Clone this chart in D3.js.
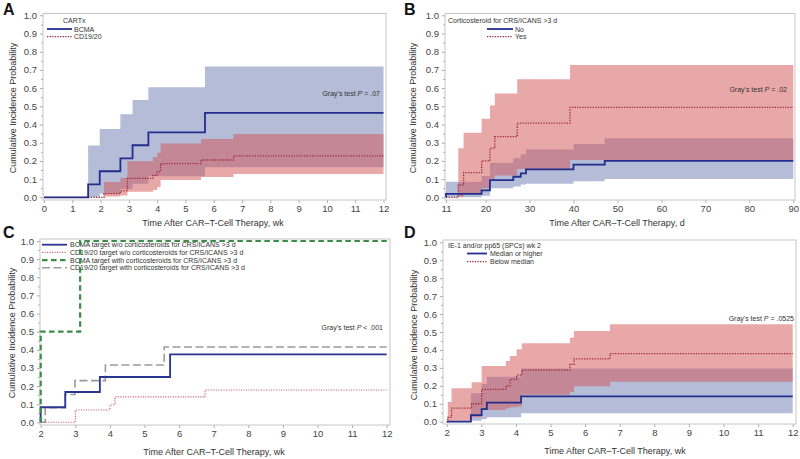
<!DOCTYPE html>
<html>
<head>
<meta charset="utf-8">
<script src="https://cdn.jsdelivr.net/npm/d3@7"></script>
<style>
  body { margin: 0; background: #fff; }
  svg text { font-family: "Liberation Sans", Arial, sans-serif; }
</style>
</head>
<body id="body">
<script>
// ---- data ----
const yTicks = [0, 0.1, 0.2, 0.3, 0.4, 0.5, 0.6, 0.7, 0.8, 0.9, 1.0];
const weekTicksA = [0, 1, 2, 3, 4, 5, 6, 7, 8, 9, 10, 11, 12];
const dayTicksB = [11, 20, 30, 40, 50, 60, 70, 80, 90];
const weekTicksCD = [2, 3, 4, 5, 6, 7, 8, 9, 10, 11, 12];

// A: CARTx
const aBcmaT   = [1.56, 1.97, 2.70, 3.13, 3.69, 5.69];
const aBcmaEst = [0.071, 0.143, 0.214, 0.286, 0.357, 0.464];
const aBcmaLo  = [0.0, 0.02, 0.045, 0.075, 0.115, 0.165];
const aBcmaHi  = [0.284, 0.375, 0.456, 0.535, 0.604, 0.718];
const aCd19T   = [2.12, 2.70, 2.95, 3.85, 4.0, 4.12, 5.55, 6.7];
const aCd19Est = [0.02, 0.035, 0.104, 0.12, 0.14, 0.185, 0.205, 0.228];
const aCd19Lo  = [0.004, 0.01, 0.03, 0.04, 0.055, 0.095, 0.112, 0.128];
const aCd19Hi  = [0.084, 0.108, 0.198, 0.222, 0.245, 0.295, 0.32, 0.348];

// B: corticosteroid for CRS/ICANS > 3 d
const bNoT    = [11, 19.1, 21, 26.3, 28, 29.2, 40, 47.1];
const bNoEst  = [0.019, 0.038, 0.094, 0.113, 0.132, 0.153, 0.18, 0.2];
const bNoLo   = [0.0, 0.008, 0.05, 0.06, 0.07, 0.075, 0.088, 0.101];
const bNoHi   = [0.086, 0.117, 0.19, 0.214, 0.236, 0.262, 0.293, 0.325];
const bYesT   = [13.8, 15.0, 19.1, 21, 22.1, 27.2, 39.2];
const bYesEst = [0.068, 0.136, 0.2, 0.27, 0.333, 0.408, 0.494];
const bYesLo  = [0.003, 0.02, 0.05, 0.1, 0.12, 0.155, 0.205];
const bYesHi  = [0.27, 0.355, 0.432, 0.505, 0.571, 0.648, 0.727];

// C: target x corticosteroids
const cBcmaNoT    = [2.0, 2.71, 3.71, 5.74];
const cBcmaNoEst  = [0.083, 0.167, 0.25, 0.375];
const cCd19NoT    = [3.0, 4.0, 4.15, 6.75];
const cCd19NoEst  = [0.068, 0.097, 0.14, 0.178];
const cBcmaYesT   = [2.0, 3.14];
const cBcmaYesEst = [0.5, 1.0];
const cCd19YesT   = [2.13, 2.71, 2.99, 3.87, 5.57];
const cCd19YesEst = [0.08, 0.153, 0.23, 0.316, 0.415];

// D: IE-1 and/or pp65 (SPCs) wk 2
const dHighT   = [2.7, 3.01, 3.16, 4.15];
const dHighEst = [0.037, 0.07, 0.106, 0.141];
const dHighLo  = [0.005, 0.015, 0.025, 0.047];
const dHighHi  = [0.158, 0.21, 0.25, 0.297];
const dLowT    = [2.03, 2.14, 2.72, 3.01, 3.71, 3.83, 4.02, 4.17, 5.56, 5.68, 6.72];
const dLowEst  = [0.024, 0.076, 0.1, 0.18, 0.2, 0.236, 0.26, 0.288, 0.32, 0.35, 0.38];
const dLowLo   = [0.0, 0.005, 0.025, 0.065, 0.075, 0.08, 0.085, 0.15, 0.165, 0.197, 0.222];
const dLowHi   = [0.11, 0.186, 0.22, 0.31, 0.338, 0.366, 0.404, 0.437, 0.47, 0.506, 0.543];

// ---- styles ----
const BLUE = "#222d8c";
const BLUE_BAND = "rgb(105,121,177)";
const RED_BAND = "rgb(211,81,81)";
const RED_DOT = "#a02838";
const styles = {
  blue:  { stroke: BLUE, width: 1.8, dash: null },
  red:   { stroke: RED_DOT, width: 1.3, dash: "1.3,1.3" },
  blueC: { stroke: "#2a3592", width: 1.8, dash: null },
  redC:  { stroke: "#cc5a68", width: 1.1, dash: "1.1,1.4" },
  green: { stroke: "#3b8c46", width: 2.2, dash: "5.5,3.5" },
  gray:  { stroke: "#9b9b9b", width: 1.6, dash: "8,3.5" }
};

const width = 800, height = 459;
const svg = d3.select("body").append("svg")
  .attr("width", width)
  .attr("height", height);

function drawPanel(cfg) {
  const g = svg.append("g");
  const x = d3.scaleLinear().domain(cfg.xDomain).range(cfg.xRange);
  const y = d3.scaleLinear().domain([0, 1]).range(cfg.yRange);
  const [fx0, fy0, fx1, fy1] = cfg.frame;
  const xEnd = cfg.xDomain[1];

  // axes
  const yAxis = g.append("g")
    .attr("transform", `translate(${fx0},0)`)
    .call(d3.axisLeft(y).tickValues(yTicks).tickFormat(d3.format(".1f")).tickSize(3).tickPadding(3));
  const yMinor = g.append("g")
    .attr("transform", `translate(${fx0},0)`)
    .call(d3.axisLeft(y).tickValues(yTicks.slice(1).map(v => v - 0.05)).tickFormat("").tickSize(2));
  const xAxis = g.append("g")
    .attr("transform", `translate(0,${fy1})`)
    .call(d3.axisBottom(x).tickValues(cfg.xTicks).tickFormat(d3.format("d")).tickSize(3).tickPadding(2));
  [yAxis, yMinor, xAxis].forEach(a => {
    a.select(".domain").remove();
    a.selectAll("line").attr("stroke", "#aaa");
    a.selectAll("text")
      .attr("fill", "#444")
      .style("font-size", "9.5px")
      .style("font-family", "'Liberation Sans', Arial, sans-serif");
  });

  g.append("rect")
    .attr("x", fx0).attr("y", fy0)
    .attr("width", fx1 - fx0).attr("height", fy1 - fy0)
    .attr("fill", "none")
    .attr("stroke", "#c6c6c6");

  // titles
  g.append("text")
    .attr("x", cfg.xTitle[0]).attr("y", cfg.xTitle[1])
    .attr("text-anchor", "middle")
    .attr("fill", "#333")
    .style("font-size", "9px")
    .text(cfg.xLabel);
  g.append("text")
    .attr("transform", `translate(${cfg.yTitle[0]},${cfg.yTitle[1]}) rotate(-90)`)
    .attr("text-anchor", "middle")
    .attr("fill", "#333")
    .style("font-size", "9px")
    .text("Cumulative Incidence Probability");
  g.append("text")
    .attr("x", cfg.letterPos[0]).attr("y", cfg.letterPos[1])
    .attr("font-weight", "bold")
    .attr("fill", "#111")
    .style("font-size", "16px")
    .text(cfg.letter);

  // legend
  const lg = cfg.legend;
  if (lg.title) {
    g.append("text")
      .attr("x", lg.titleX).attr("y", lg.titleY)
      .attr("fill", "#333")
      .style("font-size", "7px")
      .text(lg.title);
  }
  lg.items.forEach((it, i) => {
    const st = styles[it.style];
    const yy = lg.y0 + i * lg.dy;
    g.append("line")
      .attr("x1", lg.lineX[0]).attr("x2", lg.lineX[1])
      .attr("y1", yy).attr("y2", yy)
      .attr("stroke", st.stroke)
      .attr("stroke-width", st.width)
      .attr("stroke-dasharray", st.dash);
    g.append("text")
      .attr("x", lg.textX).attr("y", yy + 2.5)
      .attr("fill", "#333")
      .style("font-size", "7px")
      .text(it.label);
  });

  // bands
  const area = d3.area()
    .curve(d3.curveStepAfter)
    .x(d => x(d[0]))
    .y0(d => y(d[1]))
    .y1(d => y(d[2]));
  (cfg.bands || []).forEach(b => {
    const pts = b.t.map((t, i) => [t, b.lo[i], b.hi[i]]);
    pts.push([xEnd, b.lo[b.lo.length - 1], b.hi[b.hi.length - 1]]);
    g.append("path")
      .datum(pts)
      .attr("d", area)
      .attr("fill", b.fill)
      .attr("fill-opacity", 0.5);
  });

  // step lines
  const line = d3.line()
    .curve(d3.curveStepAfter)
    .x(d => x(d[0]))
    .y(d => y(d[1]));
  cfg.series.forEach(s => {
    const st = styles[s.style];
    const pts = [[cfg.xDomain[0], 0]].concat(s.t.map((t, i) => [t, s.est[i]]));
    pts.push([xEnd, s.est[s.est.length - 1]]);
    g.append("path")
      .datum(pts)
      .attr("d", line)
      .attr("fill", "none")
      .attr("stroke", st.stroke)
      .attr("stroke-width", st.width)
      .attr("stroke-dasharray", st.dash);
  });

  // Gray's test
  const gt = g.append("text")
    .attr("x", cfg.gray[0]).attr("y", cfg.gray[1])
    .attr("text-anchor", "end")
    .attr("fill", "#333")
    .style("font-size", "7px");
  gt.append("tspan").text("Gray's test ");
  gt.append("tspan").attr("font-style", "italic").text("P");
  gt.append("tspan").text(cfg.pText);
}

drawPanel({
  letter: "A", letterPos: [3, 15],
  xDomain: [0, 12], xRange: [44, 383.5], yRange: [197.3, 15.3],
  frame: [43, 13.5, 386, 200], xTicks: weekTicksA,
  xLabel: "Time After CAR\u2013T-Cell Therapy, wk", xTitle: [213, 226], yTitle: [16, 108],
  legend: { title: "CARTx", titleX: 63, titleY: 22.5, lineX: [47, 72], textX: 74, y0: 29, dy: 7.7,
    items: [{ label: "BCMA", style: "blue" }, { label: "CD19/20", style: "red" }] },
  bands: [
    { t: aBcmaT, lo: aBcmaLo, hi: aBcmaHi, fill: BLUE_BAND },
    { t: aCd19T, lo: aCd19Lo, hi: aCd19Hi, fill: RED_BAND }
  ],
  series: [
    { t: aCd19T, est: aCd19Est, style: "red" },
    { t: aBcmaT, est: aBcmaEst, style: "blue" }
  ],
  gray: [380, 96], pText: " = .07"
});

drawPanel({
  letter: "B", letterPos: [404, 15],
  xDomain: [11, 90], xRange: [446, 793.3], yRange: [197.3, 15.3],
  frame: [445, 13.5, 795, 200], xTicks: dayTicksB,
  xLabel: "Time After CAR\u2013T-Cell Therapy, d", xTitle: [617, 226], yTitle: [416, 108],
  legend: { title: "Corticosteroid for CRS/ICANS >3 d", titleX: 448, titleY: 22.5, lineX: [487, 513], textX: 515, y0: 29, dy: 7.7,
    items: [{ label: "No", style: "blue" }, { label: "Yes", style: "red" }] },
  bands: [
    { t: bNoT, lo: bNoLo, hi: bNoHi, fill: BLUE_BAND },
    { t: bYesT, lo: bYesLo, hi: bYesHi, fill: RED_BAND }
  ],
  series: [
    { t: bYesT, est: bYesEst, style: "red" },
    { t: bNoT, est: bNoEst, style: "blue" }
  ],
  gray: [787, 92], pText: " = .02"
});

drawPanel({
  letter: "C", letterPos: [3, 238],
  xDomain: [2, 12], xRange: [40.7, 386.7], yRange: [422.3, 241],
  frame: [40, 239, 390, 425], xTicks: weekTicksCD,
  xLabel: "Time After CAR\u2013T-Cell Therapy, wk", xTitle: [214, 455], yTitle: [15, 333],
  legend: { title: null, lineX: [42, 67], textX: 70, y0: 244.7, dy: 7.7,
    items: [
      { label: "BCMA target w/o corticosteroids for CRS/ICANS >3 d", style: "blueC" },
      { label: "CD19/20 target w/o corticosteroids for CRS/ICANS >3 d", style: "redC" },
      { label: "BCMA target with corticosteroids for CRS/ICANS >3 d", style: "green" },
      { label: "CD19/20 target with corticosteroids for CRS/ICANS >3 d", style: "gray" }
    ] },
  bands: [],
  series: [
    { t: cCd19NoT, est: cCd19NoEst, style: "redC" },
    { t: cCd19YesT, est: cCd19YesEst, style: "gray" },
    { t: cBcmaNoT, est: cBcmaNoEst, style: "blueC" },
    { t: cBcmaYesT, est: cBcmaYesEst, style: "green" }
  ],
  gray: [383, 330], pText: " < .001"
});

drawPanel({
  letter: "D", letterPos: [404, 238],
  xDomain: [2, 12], xRange: [446.7, 792.7], yRange: [421.7, 242.3],
  frame: [443, 240, 796, 424], xTicks: weekTicksCD,
  xLabel: "Time After CAR\u2013T-Cell Therapy, wk", xTitle: [615, 454], yTitle: [416.5, 335],
  legend: { title: "IE-1 and/or pp65 (SPCs) wk 2", titleX: 448, titleY: 247.5, lineX: [467, 487], textX: 490, y0: 253.5, dy: 8.2,
    items: [{ label: "Median or higher", style: "blue" }, { label: "Below median", style: "red" }] },
  bands: [
    { t: dHighT, lo: dHighLo, hi: dHighHi, fill: BLUE_BAND },
    { t: dLowT, lo: dLowLo, hi: dLowHi, fill: RED_BAND }
  ],
  series: [
    { t: dLowT, est: dLowEst, style: "red" },
    { t: dHighT, est: dHighEst, style: "blue" }
  ],
  gray: [794, 321], pText: " = .0525"
});
</script>
</body>
</html>
